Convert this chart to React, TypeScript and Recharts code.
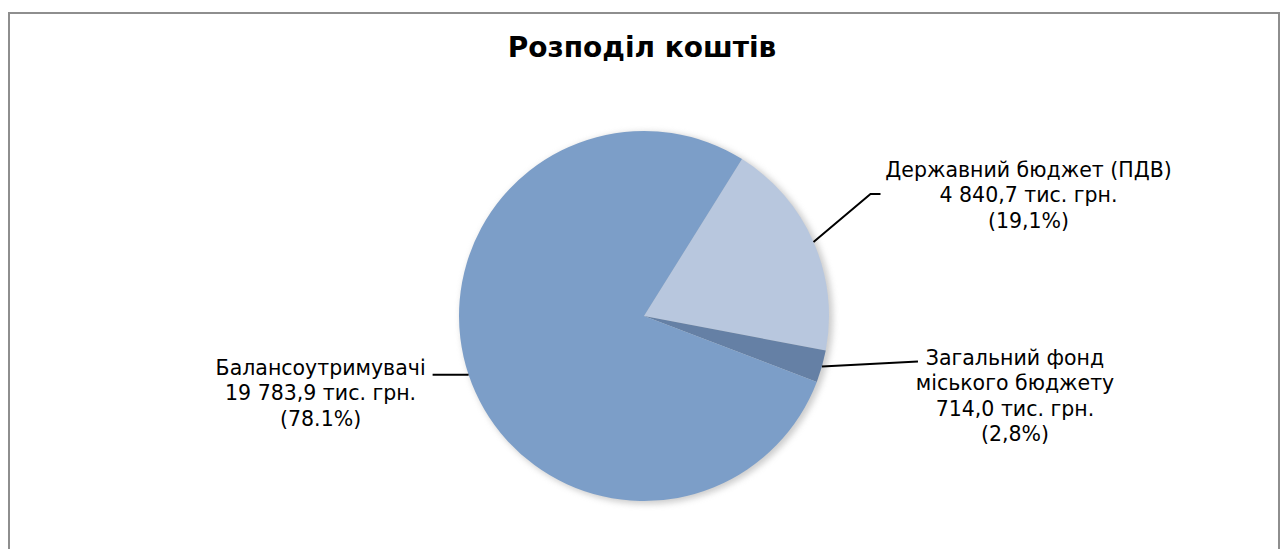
import React from 'react';
import { PieChart, Pie, Cell } from 'recharts';

const names = ['Державний бюджет (ПДВ)', 'Загальний фонд міського бюджету', 'Балансоутримувачі'];
const values = [4840.7, 714.0, 19783.9];
const labelLines: string[][] = [
  ['Державний бюджет (ПДВ)', '4 840,7 тис. грн.', '(19,1%)'],
  ['Загальний фонд', 'міського бюджету', '714,0 тис. грн.', '(2,8%)'],
  ['Балансоутримувачі', '19 783,9 тис. грн.', '(78.1%)'],
];
const colors = ['#B8C7DE', '#6580A5', '#7C9EC8'];

const data = names.map((n, i) => ({ name: n, value: values[i] }));

const FONT = '"DejaVu Sans", Verdana, sans-serif';
const RAD = Math.PI / 180;

// leader: elbow offset and end offset relative to slice edge midpoint; text anchor offset
const leader = [
  { elbow: [57, -48], end: [67, -48], text: [215, -72] },
  { elbow: [96, -5], end: [96, -5], text: [193, -9] },
  { elbow: [-23, 0], end: [-36, 0], text: [-148, -7] },
];

const renderLabel = (props: any) => {
  const { cx, cy, midAngle, outerRadius, index } = props;
  const x0 = cx + outerRadius * Math.cos(-midAngle * RAD);
  const y0 = cy + outerRadius * Math.sin(-midAngle * RAD);
  const L = leader[index];
  const lines = labelLines[index];
  const tx = x0 + L.text[0];
  const ty = y0 + L.text[1];
  return (
    <g key={`lbl-${index}`}>
      <polyline
        points={`${x0},${y0} ${x0 + L.elbow[0]},${y0 + L.elbow[1]} ${x0 + L.end[0]},${y0 + L.end[1]}`}
        fill="none"
        stroke="#000"
        strokeWidth={2}
      />
      <text x={tx} y={ty} textAnchor="middle" fontFamily={FONT} fontSize={20.5} fill="#000">
        {lines.map((l, k) => (
          <tspan key={k} x={tx} dy={k === 0 ? 7 : 25.5}>
            {l}
          </tspan>
        ))}
      </text>
    </g>
  );
};

export default function App() {
  return (
    <div style={{ position: 'absolute', left: 0, top: 0, width: 1281, height: 549, overflow: 'hidden', background: '#fff' }}>
      <div
        style={{
          position: 'absolute',
          left: 8,
          top: 12,
          width: 1272,
          height: 560,
          border: '2px solid #8E8E8E',
          boxSizing: 'border-box',
        }}
      />
      <div
        style={{
          position: 'absolute',
          left: 0,
          top: 31,
          width: 1284,
          textAlign: 'center',
          fontFamily: FONT,
          fontWeight: 'bold',
          fontSize: 28,
          lineHeight: '34px',
          color: '#000',
        }}
      >
        Розподіл коштів
      </div>
      <div style={{ position: 'absolute', left: 0, top: 0 }}>
        <PieChart width={1281} height={549} margin={{ top: 0, right: 0, bottom: 0, left: 0 }}>
          <Pie
            data={[{ v: 1 }]}
            dataKey="v"
            cx={647}
            cy={318}
            outerRadius={186}
            startAngle={0}
            endAngle={360}
            stroke="none"
            isAnimationActive={false}
          >
            <Cell fill="#9a9a9a" style={{ filter: 'blur(3px)', opacity: 0.5 }} />
          </Pie>
          <Pie
            data={data}
            dataKey="value"
            cx={644}
            cy={316}
            outerRadius={185}
            startAngle={58}
            endAngle={-302}
            stroke="none"
            label={renderLabel}
            labelLine={false}
            isAnimationActive={false}
          >
            {data.map((d, i) => (
              <Cell key={d.name} fill={colors[i]} />
            ))}
          </Pie>
        </PieChart>
      </div>
    </div>
  );
}
